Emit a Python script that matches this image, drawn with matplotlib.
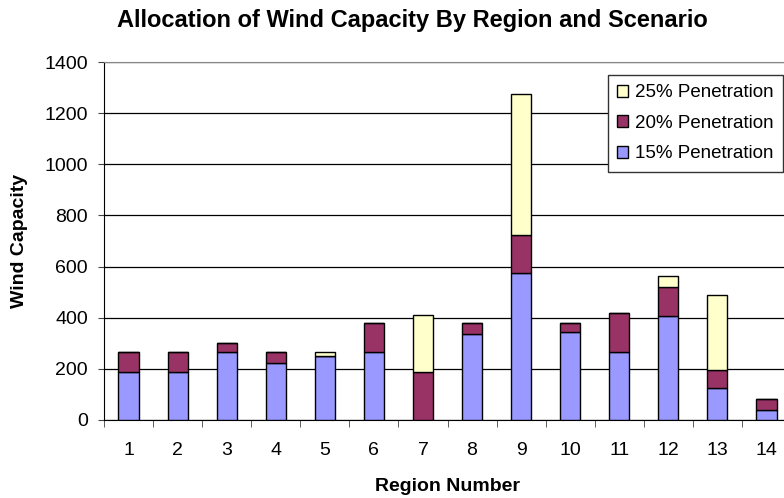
import matplotlib
matplotlib.use("Agg")
import matplotlib.pyplot as plt
import numpy as np

plt.rcParams['font.family'] = ['Liberation Sans', 'DejaVu Sans']

regions = list(range(1, 15))
pen15 = [185, 185, 265, 222, 248, 265, 0, 337, 573, 345, 265, 404, 122, 39]
pen20 = [80, 80, 36, 43, 0, 115, 188, 43, 150, 35, 152, 114, 71, 42]
pen25 = [0, 0, 0, 0, 17, 0, 221, 0, 553, 0, 0, 43, 296, 0]

blue = '#9999FF'
plum = '#993366'
cream = '#FFFFCC'

W, H = 784, 498
fig = plt.figure(figsize=(W / 100, H / 100), dpi=100)
ax = fig.add_axes([104 / W, (H - 419.5) / H, 687 / W, 357 / H])

x = np.array(regions)
w = 0.41
b1 = ax.bar(x, pen15, w, color=blue, edgecolor='black', linewidth=1.0, label='15% Penetration', zorder=3)
b2 = ax.bar(x, pen20, w, bottom=pen15, color=plum, edgecolor='black', linewidth=1.0, label='20% Penetration', zorder=3)
bottom25 = np.array(pen15) + np.array(pen20)
b3 = ax.bar(x, pen25, w, bottom=bottom25, color=cream, edgecolor='black', linewidth=1.0, label='25% Penetration', zorder=3)

ax.set_xlim(0.5, 14.5)
ax.set_ylim(0, 1400)
ax.set_yticks(range(0, 1401, 200))
ax.set_xticks(x)
ax.set_xticks(np.arange(0.5, 14.6, 1), minor=True)
ax.tick_params(axis='x', which='major', length=0, labelsize=14, pad=16)
ax.tick_params(axis='x', which='minor', length=5, direction='out', color='#444444')
ax.tick_params(axis='y', length=4.5, direction='out', labelsize=14, pad=7, color='#444444')
ax.yaxis.grid(True, color='black', linewidth=0.9, zorder=0)

for s in ['top', 'right']:
    ax.spines[s].set_color('#888888')
ax.spines['left'].set_color('black')
ax.spines['bottom'].set_color('black')

fig.text(412 / W, (H - 27) / H, 'Allocation of Wind Capacity By Region and Scenario',
         fontsize=17, fontweight='bold', ha='center', va='baseline')
fig.text(447.5 / W, (H - 491) / H, 'Region Number', fontsize=14, fontweight='bold',
         ha='center', va='baseline')
fig.text(20 / W, (H - 241) / H, 'Wind Capacity', fontsize=14, fontweight='bold',
         ha='center', va='center', rotation=90)

leg = ax.legend(handles=[b3, b2, b1], loc='upper right', bbox_to_anchor=(0.988, 0.965),
                borderaxespad=0, fontsize=13.5, frameon=True, fancybox=False, edgecolor='#333333',
                handlelength=0.6, handleheight=0.6, handletextpad=0.35,
                labelspacing=0.72, borderpad=0.5, framealpha=1)
leg.get_frame().set_linewidth(1.0)

fig.savefig('out.png', dpi=100)
